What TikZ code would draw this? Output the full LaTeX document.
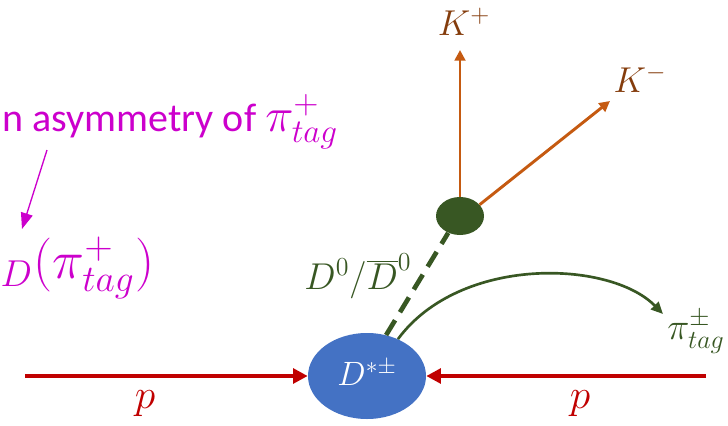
\documentclass[tikz,border=0pt]{standalone}
\usepackage{fontspec}
\setmainfont{Carlito}
\usetikzlibrary{arrows.meta,shapes.geometric}
\definecolor{pred}{HTML}{C00000}
\definecolor{dblue}{HTML}{4472C4}
\definecolor{dgreen}{HTML}{385723}
\definecolor{korange}{HTML}{C55A11}
\definecolor{kbrown}{HTML}{843C0C}
\definecolor{mag}{HTML}{CC00CC}
\tikzset{
  parrow/.style={draw=pred,line width=3pt,-{Triangle[length=11pt,width=11pt]}},
  karrow/.style={draw=korange,line width=2.2pt,-{Triangle[length=8pt,width=8pt]}},
  mlabel/.style={inner sep=0pt,font=\fontsize{20}{24}\selectfont},
}
\begin{document}
\begin{tikzpicture}[x=0.75pt,y=-0.75pt]
\useasboundingbox (0,0) rectangle (728,425);
\clip (0,0) rectangle (728,425);
% nodes
\node[ellipse,fill=dblue,minimum width=88.5pt,minimum height=64.5pt,inner sep=0pt] (ds) at (367,376) {};
\node[mlabel,text=white,scale=1.22] (dslab) at (367,373) {$D^{*\pm}$};
\node[ellipse,fill=dgreen,minimum width=36pt,minimum height=28.5pt,inner sep=0pt] (dz) at (460,216) {};
\coordinate (pl) at (25,376);
\coordinate (pr) at (706,376);
\node[mlabel,text=pred,scale=1.5] (p1) at (145,404) {$p$};
\node[mlabel,text=pred,scale=1.5] (p2) at (580,404) {$p$};
\coordinate (kp) at (460,50);
\coordinate (km) at (610,101);
\node[mlabel,text=kbrown,scale=1.3] (kplab) at (464,22) {$K^+$};
\node[mlabel,text=kbrown,scale=1.3] (kmlab) at (640,79) {$K^-$};
\node[mlabel,text=dgreen,scale=1.35] (dlab) at (358,276) {$D^0/\overline{D}^0$};
\node[mlabel,text=dgreen,anchor=west,scale=1.35] (pitag) at (667,332) {$\pi^\pm_{tag}$};
\coordinate (piend) at (663,314);
% magenta text
\node[anchor=west,inner sep=0pt,text=mag,font=\fontsize{20}{24}\selectfont,scale=1.5] (asym) at (2,122) {n asymmetry of \scalebox{1.15}{$\pi^+_{tag}$}};
\node[anchor=west,inner sep=0pt,text=mag,font=\fontsize{20}{24}\selectfont,scale=1.95] (ad) at (0,268) {${}_D\Bigl(\pi^+_{tag}\Bigr)$};
\coordinate (ma) at (47,150);
\coordinate (mb) at (22,229);
% connectors
\draw[parrow] (pl) -- (ds.west);
\draw[parrow] (pr) -- (ds.east);
\draw[dgreen,line width=3.5pt,dash pattern=on 13pt off 7pt] (ds.65) -- (dz.235);
\draw[karrow] (dz.north) -- (kp);
\draw[karrow] (dz.30) -- (km);
\draw[dgreen,line width=2pt,-{Triangle[length=9pt,width=8pt]}] (ds.50) .. controls (460,255) and (610,260) .. (piend);
\draw[mag,line width=1pt,-{Triangle[length=12pt,width=9pt]}] (ma) -- (mb);
\end{tikzpicture}
\end{document}
